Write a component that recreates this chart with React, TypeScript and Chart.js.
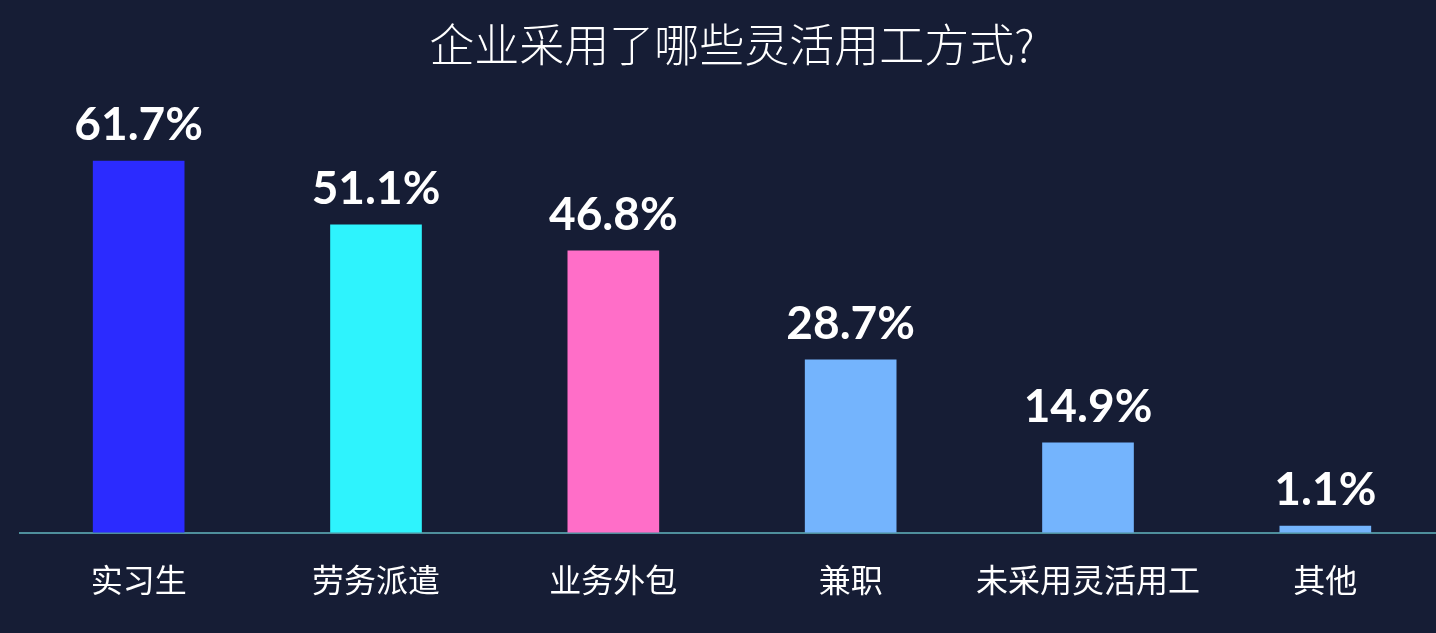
import React, { useEffect, useRef } from "react";
import { Chart, registerables } from "chart.js";

Chart.register(...registerables);

const categories = ["实习生", "劳务派遣", "业务外包", "兼职", "未采用灵活用工", "其他"];
const values = [61.7, 51.1, 46.8, 28.7, 14.9, 1.1];
const barColors = ["#2b2bff", "#2ef3fd", "#ff6ec8", "#74b4fd", "#74b4fd", "#74b4fd"];
const titleText = "企业采用了哪些灵活用工方式?";

const BG = "#161d35";

const valueLabelPlugin = {
  id: "valueLabels",
  afterDatasetsDraw(chart: any) {
    const ctx = chart.ctx;
    const meta = chart.getDatasetMeta(0);
    ctx.save();
    ctx.fillStyle = "#ffffff";
    ctx.font = "bold 46px Lato";
    ctx.textAlign = "center";
    ctx.textBaseline = "alphabetic";
    meta.data.forEach((bar: any, i: number) => {
      ctx.fillText(values[i].toFixed(1) + "%", bar.x, bar.y - 21);
    });
    ctx.restore();
  },
};

export default function App() {
  const ref = useRef<HTMLCanvasElement>(null);
  useEffect(() => {
    if (!ref.current) return;
    const chart = new Chart(ref.current, {
      type: "bar",
      data: {
        labels: categories,
        datasets: [
          {
            data: values,
            backgroundColor: barColors,
            borderWidth: 0,
            barThickness: 91,
          },
        ],
      },
      options: {
        responsive: false,
        animation: false,
        layout: { padding: { left: 20, right: 0, top: 0, bottom: 6 } },
        plugins: {
          legend: { display: false },
          tooltip: { enabled: false },
          title: {
            display: true,
            text: titleText,
            color: "#ffffff",
            font: { family: "'Noto Sans CJK SC'", size: 45, weight: "300" },
            padding: { top: 18, bottom: 39 },
          },
        },
        scales: {
          x: {
            grid: { display: false, drawTicks: false },
            border: { display: true, color: "#4f8f9c", width: 2 },
            ticks: {
              color: "#ffffff",
              padding: 28,
              font: { family: "'Noto Sans CJK SC'", size: 32 },
            },
          },
          y: {
            display: false,
            min: 0,
            max: 70,
          },
        },
      },
      plugins: [valueLabelPlugin],
    });
    return () => chart.destroy();
  }, []);
  return (
    <div
      style={{
        position: "fixed",
        left: 0,
        top: 0,
        width: 1436,
        height: 633,
        overflow: "hidden",
        background: BG,
      }}
    >
      <canvas ref={ref} width={1444} height={633} style={{ display: "block" }} />
    </div>
  );
}
